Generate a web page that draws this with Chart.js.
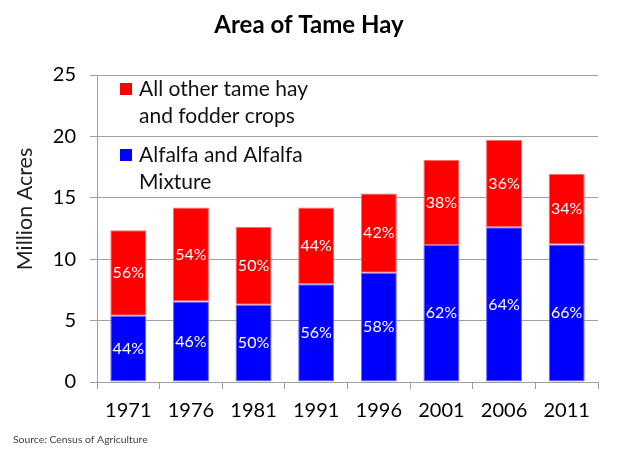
<!DOCTYPE html>
<html>
<head>
<meta charset="utf-8">
<script src="https://cdn.jsdelivr.net/npm/chart.js@4"></script>
<style>
  html, body { margin: 0; padding: 0; background: #fff; }
  #wrap { width: 622px; height: 456px; position: relative; }
</style>
</head>
<body>
<div id="wrap"><canvas id="hayChart"></canvas></div>
<script>
  const years = ['1971', '1976', '1981', '1991', '1996', '2001', '2006', '2011'];
  // million acres
  const alfalfa = [5.4, 6.55, 6.3, 7.95, 8.9, 11.15, 12.6, 11.2];
  const otherHay = [6.96, 7.66, 6.33, 6.26, 6.45, 6.92, 7.1, 5.73];
  const alfalfaPct = ['44%', '46%', '50%', '56%', '58%', '62%', '64%', '66%'];
  const otherPct = ['56%', '54%', '50%', '44%', '42%', '38%', '36%', '34%'];
  const yTicks = [0, 5, 10, 15, 20, 25];
  const legendLines = {
    other: ['All other tame hay', 'and fodder crops'],
    alfalfa: ['Alfalfa and Alfalfa', 'Mixture']
  };

  const FONT = 'Lato, "Open Sans", sans-serif';

  const hayExtras = {
    id: 'hayExtras',
    afterDatasetsDraw(chart) {
      const ctx = chart.ctx;
      ctx.save();
      ctx.fillStyle = '#ffffff';
      ctx.font = '16px ' + FONT;
      ctx.textAlign = 'center';
      ctx.textBaseline = 'middle';
      const pcts = [alfalfaPct, otherPct];
      chart.data.datasets.forEach((ds, di) => {
        chart.getDatasetMeta(di).data.forEach((bar, i) => {
          const mid = (bar.y + bar.base) / 2;
          ctx.fillText(pcts[di][i], bar.x, mid);
        });
      });
      ctx.restore();
    },
    afterDraw(chart) {
      const ctx = chart.ctx;
      ctx.save();
      // title
      ctx.fillStyle = '#000';
      ctx.font = 'bold 24px ' + FONT;
      ctx.textAlign = 'center';
      ctx.textBaseline = 'alphabetic';
      ctx.fillText('Area of Tame Hay', 309, 33);

      // y axis title
      ctx.save();
      ctx.translate(25, 209);
      ctx.rotate(-Math.PI / 2);
      ctx.font = '21.5px ' + FONT;
      ctx.textBaseline = 'middle';
      ctx.fillStyle = '#222';
      ctx.fillText('Million Acres', 0, 0);
      ctx.restore();

      // legend inside plot
      const items = [
        { color: chart.data.datasets[1].backgroundColor, lines: legendLines.other, y: 96 },
        { color: chart.data.datasets[0].backgroundColor, lines: legendLines.alfalfa, y: 162 }
      ];
      ctx.textAlign = 'left';
      ctx.font = '21px ' + FONT;
      items.forEach(it => {
        ctx.fillStyle = it.color;
        ctx.fillRect(120, it.y - 13, 12, 12);
        ctx.fillStyle = '#111';
        it.lines.forEach((t, k) => ctx.fillText(t, 139, it.y + k * 26.5));
      });

      // source note
      ctx.font = '10.4px ' + FONT;
      ctx.fillStyle = '#404040';
      ctx.fillText('Source: Census of Agriculture', 13, 443);
      ctx.restore();
    }
  };

  const hayChart = new Chart(document.getElementById('hayChart'), {
    type: 'bar',
    data: {
      labels: years,
      datasets: [
        {
          label: 'Alfalfa and Alfalfa Mixture',
          data: alfalfa,
          backgroundColor: '#0000ff',
          borderColor: '#6b6bff',
          borderWidth: 1,
          borderSkipped: false,
          categoryPercentage: 1,
          barPercentage: 0.575
        },
        {
          label: 'All other tame hay and fodder crops',
          data: otherHay,
          backgroundColor: '#ff0000',
          borderColor: '#ff6b6b',
          borderWidth: 1,
          borderSkipped: false,
          categoryPercentage: 1,
          barPercentage: 0.575
        }
      ]
    },
    options: {
      responsive: true,
      maintainAspectRatio: false,
      animation: false,
      layout: { padding: { left: 0, right: 24, top: 75, bottom: 34 } },
      plugins: {
        legend: { display: false },
        title: { display: false },
        tooltip: { enabled: false }
      },
      scales: {
        x: {
          stacked: true,
          grid: { drawOnChartArea: false, drawTicks: true, tickLength: 7, color: '#a0a0a0', offset: true },
          border: { color: '#a0a0a0', width: 1 },
          ticks: { color: '#000', font: { family: FONT, size: 20 }, padding: 10 },
          afterFit(scale) { scale.height = 40; }
        },
        y: {
          stacked: true,
          min: 0,
          max: 25,
          afterBuildTicks(scale) { scale.ticks = yTicks.map(v => ({ value: v })); },
          grid: { color: '#a0a0a0', tickLength: 7, drawTicks: true },
          border: { color: '#a0a0a0', width: 1 },
          ticks: { color: '#000', font: { family: FONT, size: 20 }, padding: 14 },
          afterFit(scale) { scale.width = 97; }
        }
      }
    },
    plugins: [hayExtras]
  });
</script>
</body>
</html>
